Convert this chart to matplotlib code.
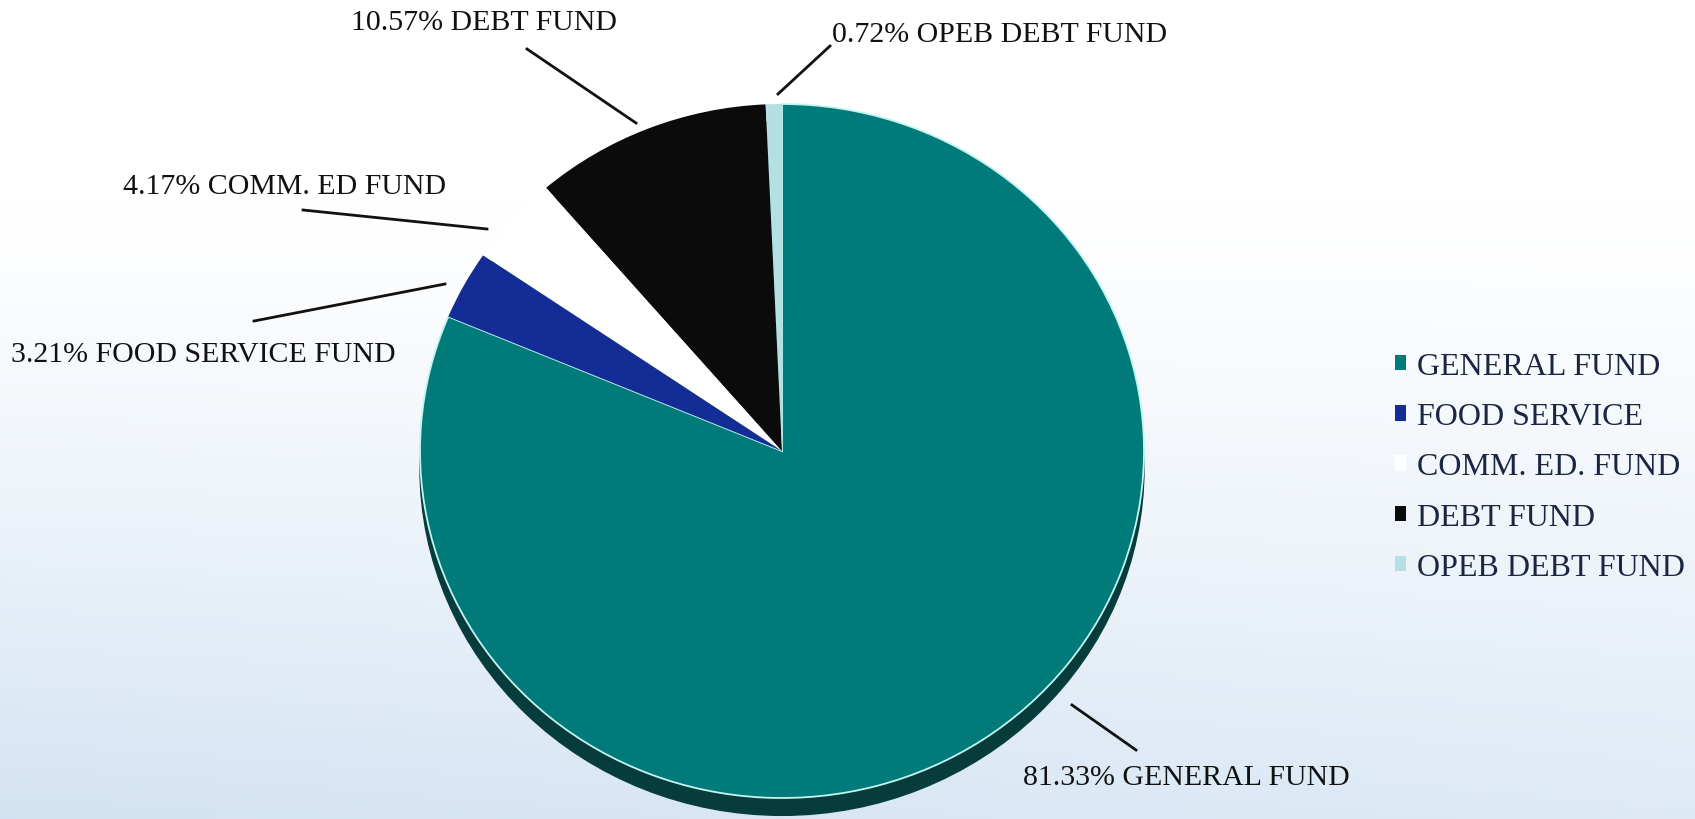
import matplotlib
matplotlib.use("Agg")
import matplotlib.pyplot as plt
from matplotlib.patches import Ellipse
import numpy as np

# fund shares (percent), in legend order
funds = ["GENERAL FUND", "FOOD SERVICE", "COMM. ED. FUND", "DEBT FUND", "OPEB DEBT FUND"]
shares = [81.33, 3.21, 4.17, 10.57, 0.72]
label_texts = ["81.33% GENERAL FUND", "3.21% FOOD SERVICE FUND", "4.17% COMM. ED FUND",
               "10.57% DEBT FUND", "0.72% OPEB DEBT FUND"]
colors = ["#007b7a", "#142d96", "#ffffff", "#0b0b0b", "#b5e0e3"]

W, H = 1695, 820
fig = plt.figure(figsize=(W / 100, H / 100), dpi=100)
plt.rcParams['font.family'] = ['Liberation Serif', 'DejaVu Serif']

# background: white fading into pale blue towards the bottom
bg = fig.add_axes([0, 0, 1, 1])
yy = np.linspace(0, 1, 200)[:, None]
xx = np.linspace(0, 1, 200)[None, :]
t = np.clip((yy - 0.25) / 0.75, 0, 1) ** 1.2 * (0.75 + 0.25 * (1 - xx))
top = np.array([1.0, 1.0, 1.0])
bottom = np.array([0.83, 0.89, 0.95])
img = top[None, None, :] * (1 - t[..., None]) + bottom[None, None, :] * t[..., None]
bg.imshow(img, extent=[0, W, H, 0], aspect="auto")
bg.set_xlim(0, W)
bg.set_ylim(H, 0)
bg.axis("off")

# pie drawn as a slightly flattened ellipse
cx, cy, rx, ry = 782, 452, 362, 347
ax = fig.add_axes([(cx - rx) / W, (H - cy - ry) / H, 2 * rx / W, 2 * ry / H])
ax.add_patch(Ellipse((0, -0.05), 2, 2, color="#063d3c", clip_on=False, zorder=0))
wedges, _ = ax.pie(shares, colors=colors, startangle=90, counterclock=False,
                   wedgeprops=dict(linewidth=0))
for w in wedges:
    w.set_clip_on(False)
# thin light rim only on the general fund slice
wedges[0].set_edgecolor("#c4f4f2")
wedges[0].set_linewidth(1.3)
ax.set_aspect("auto")
ax.set_xlim(-1, 1)
ax.set_ylim(-1, 1)
ax.axis("off")

# labels with leader lines (pixel positions)
ov = fig.add_axes([0, 0, 1, 1])
ov.set_xlim(0, W)
ov.set_ylim(H, 0)
ov.axis("off")
ov.patch.set_alpha(0)

label_pos = [(1186, 778), (203, 355), (285, 187), (484, 23), (1000, 35)]
leaders = [((1072, 706), (1136, 751)), ((254, 322), (445, 285)), ((303, 211), (487, 230)),
           ((527, 50), (636, 124)), ((830, 47), (778, 95))]
for txt, (x, y), (p0, p1) in zip(label_texts, label_pos, leaders):
    ov.text(x, y, txt, fontsize=21.5, color="#111111", ha="center", va="center")
    ov.plot([p0[0], p1[0]], [p0[1], p1[1]], color="#111111", lw=2)

leg = fig.legend(wedges, funds, loc="center left", bbox_to_anchor=(1395 / W, 1 - 468 / H),
                 frameon=False, fontsize=23, handlelength=0.35, handleheight=0.35,
                 handletextpad=0.35, labelspacing=0.66, borderpad=0, borderaxespad=0)
for txt, h in zip(leg.get_texts(), leg.legend_handles):
    txt.set_color("#1c2541")
    h.set_edgecolor("none")

fig.savefig("out.png", dpi=100)
